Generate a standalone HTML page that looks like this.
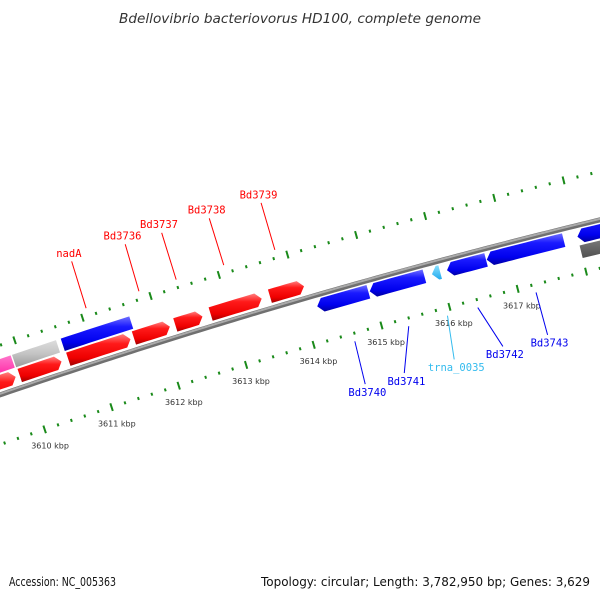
<!DOCTYPE html>
<html><head><meta charset="utf-8"><style>
html,body{margin:0;padding:0;background:#fff;}
svg{display:block;}
</style></head><body>
<svg id="map" width="600" height="600" viewBox="0 0 600 600" xmlns="http://www.w3.org/2000/svg">
<defs>
<linearGradient id="gRed" x1="0" y1="0" x2="0" y2="1"><stop offset="0" stop-color="#ff8080"/><stop offset="0.3" stop-color="#ff1a1a"/><stop offset="0.75" stop-color="#ee0000"/><stop offset="1" stop-color="#a00000"/></linearGradient>
<linearGradient id="gBlue" x1="0" y1="0" x2="0" y2="1"><stop offset="0" stop-color="#7070ff"/><stop offset="0.3" stop-color="#1a1aff"/><stop offset="0.75" stop-color="#0000ee"/><stop offset="1" stop-color="#0000a0"/></linearGradient>
<linearGradient id="gGray" x1="0" y1="0" x2="0" y2="1"><stop offset="0" stop-color="#dddddd"/><stop offset="0.5" stop-color="#c4c4c4"/><stop offset="1" stop-color="#999"/></linearGradient>
<linearGradient id="gPink" x1="0" y1="0" x2="0" y2="1"><stop offset="0" stop-color="#ff77cc"/><stop offset="0.5" stop-color="#ff33aa"/><stop offset="1" stop-color="#bb1177"/></linearGradient>
<linearGradient id="gDark" x1="0" y1="0" x2="0" y2="1"><stop offset="0" stop-color="#999"/><stop offset="0.5" stop-color="#707070"/><stop offset="1" stop-color="#505050"/></linearGradient>
<linearGradient id="gCyan" x1="0" y1="0" x2="0" y2="1"><stop offset="0" stop-color="#88e0ff"/><stop offset="1" stop-color="#22aaee"/></linearGradient>
</defs>
<text x="300" y="23" text-anchor="middle" font-family="DejaVu Sans, sans-serif" font-style="italic" font-size="13" fill="#333" textLength="362" lengthAdjust="spacingAndGlyphs">Bdellovibrio bacteriovorus HD100, complete genome</text>
<g id="ticks"></g>
<g id="backbone"></g>
<g id="genes"></g>
<g id="labels"></g>
<text x="9" y="586" font-family="DejaVu Sans, sans-serif" font-size="12" fill="#111" textLength="107" lengthAdjust="spacingAndGlyphs">Accession: NC_005363</text>
<text x="590" y="586" text-anchor="end" font-family="DejaVu Sans, sans-serif" font-size="12" fill="#111" textLength="329" lengthAdjust="spacingAndGlyphs">Topology: circular; Length: 3,782,950 bp; Genes: 3,629</text>
</svg>
<script>
// ---- data ----
const geneStarts = [3608.9, 3609.91, 3610.63, 3611.60, 3612.21, 3612.73, 3613.60, 3608.9, 3609.90, 3610.62, 3614.20, 3614.97, 3615.88, 3616.10, 3616.68, 3618.00, 3618.00];
const geneEnds   = [3609.85, 3610.53, 3611.55, 3612.13, 3612.61, 3613.48, 3614.10, 3609.88, 3610.55, 3611.63, 3614.95, 3615.77, 3616.00, 3616.67, 3617.80, 3619.0, 3619.0];
const geneStrand = [1, 1, 1, 1, 1, 1, 1, 0, 0, 0, -1, -1, -1, -1, -1, -1, 0];
const geneTrack  = [1, 1, 1, 1, 1, 1, 1, 2, 2, 2, -1, -1, -1, -1, -1, -1, -2];
const geneColor  = ['gRed','gRed','gRed','gRed','gRed','gRed','gRed','gPink','gGray','gBlue','gBlue','gBlue','gCyan','gBlue','gBlue','gBlue','gDark'];
const geneNames  = ['', '', 'nadA', 'Bd3736', 'Bd3737', 'Bd3738', 'Bd3739', '', '', '', 'Bd3740', 'Bd3741', 'trna_0035', 'Bd3742', 'Bd3743', '', ''];
const labelTextPos = [0, 0, 3611.10, 3611.88, 3612.41, 3613.10, 3613.85, 0, 0, 0, 3614.55, 3615.13, 3615.87, 3616.59, 3617.25, 0, 0];
const tickLabels = [3610, 3611, 3612, 3613, 3614, 3615, 3616, 3617];

// ---- axis (circular map) ----
const CX = 2198, CY = 6814, R = 6785;
const S0 = 3615, A0 = 15.64 * Math.PI / 180, RAD_PER_KBP = 71 / 6785;
function ang(s){ return A0 - (s - S0) * RAD_PER_KBP; }
function pt(s, r){ const a = ang(s); return [CX - (R + r) * Math.sin(a), CY - (R + r) * Math.cos(a)]; }
const trackR = {'1':[5,19], '2':[21,34], '-1':[-18,-4], '-2':[-33,-20]};
const NS = 'http://www.w3.org/2000/svg';
function mk(tag, attrs, parent){ const e = document.createElementNS(NS, tag); for (const k in attrs) e.setAttribute(k, attrs[k]); parent.appendChild(e); return e; }
function f(p){ return p[0].toFixed(2) + ',' + p[1].toFixed(2); }

// ticks
const tg = document.getElementById('ticks');
for (let i = 3608 * 5; i <= 3620 * 5; i++) {
  const s = i / 5; const major = (i % 5 === 0);
  [47, -47].forEach(rc => {
    const h = major ? 4 : 1.5;
    const a = pt(s, rc - h), b = pt(s, rc + h);
    const ln = mk('line', {x1:a[0], y1:a[1], x2:b[0], y2:b[1], stroke:'#1a8a1a', 'stroke-width': 2}, tg);
    
    
  });
}
tickLabels.forEach(k => {
  const p = pt(k, -64);
  const t = mk('text', {x:p[0], y:p[1] + 3, 'text-anchor':'middle', 'font-family':'DejaVu Sans, sans-serif', 'font-size':'8', fill:'#333'}, tg);
  t.textContent = k + ' kbp';
  
  
});

// backbone
const bb = document.getElementById('backbone');
function arcPath(s1, s2, r){ let d = ''; for (let s = s1; s <= s2 + 1e-9; s += 0.1) { d += (d ? 'L' : 'M') + f(pt(s, r)); } return d; }
const bb1 = mk('path', {d: arcPath(3607, 3620, 0), fill:'none', stroke:'#707070', 'stroke-width':5}, bb);


const bb2 = mk('path', {d: arcPath(3607, 3620, 1), fill:'none', stroke:'#aaaaaa', 'stroke-width':2}, bb);



// genes
const gg = document.getElementById('genes');
const AH = 0.08;
geneStarts.forEach((s1, i) => {
  const s2 = geneEnds[i], st = geneStrand[i];
  const rr = trackR[String(geneTrack[i])]; const rIn = rr[0], rOut = rr[1], rMid = (rIn + rOut) / 2;
  let pts = [];
  const steps = Math.max(2, Math.ceil((s2 - s1) / 0.1));
  if (st === 1) {
    const e = Math.max(s1, s2 - AH);
    for (let k = 0; k <= steps; k++) pts.push(pt(s1 + (e - s1) * k / steps, rOut));
    pts.push(pt(s2, rMid));
    for (let k = steps; k >= 0; k--) pts.push(pt(s1 + (e - s1) * k / steps, rIn));
  } else if (st === -1) {
    const b = Math.min(s2, s1 + AH);
    pts.push(pt(s1, rMid));
    for (let k = 0; k <= steps; k++) pts.push(pt(b + (s2 - b) * k / steps, rOut));
    for (let k = steps; k >= 0; k--) pts.push(pt(b + (s2 - b) * k / steps, rIn));
  } else {
    for (let k = 0; k <= steps; k++) pts.push(pt(s1 + (s2 - s1) * k / steps, rOut));
    for (let k = steps; k >= 0; k--) pts.push(pt(s1 + (s2 - s1) * k / steps, rIn));
  }
  const pg = mk('polygon', {points: pts.map(f).join(' '), fill: 'url(#' + geneColor[i] + ')'}, gg);
  
  
});

// labels
const lg = document.getElementById('labels');
geneNames.forEach((nm, i) => {
  if (!nm) return;
  const mid = (geneStarts[i] + geneEnds[i]) / 2;
  const up = geneTrack[i] > 0;
  const col = geneColor[i] === 'gCyan' ? '#33bbee' : (up ? '#ff0000' : '#0000ee');
  const a = pt(mid, up ? 55 : -55), b = pt(labelTextPos[i], up ? 104 : -99);
  const ln = mk('line', {x1:a[0], y1:a[1], x2:b[0], y2:b[1], stroke: col, 'stroke-width': 1}, lg);
  
  
  const tp = pt(labelTextPos[i], up ? 113 : -107);
  const t = mk('text', {x: tp[0], y: tp[1] + 4, 'text-anchor':'middle', 'font-family':'DejaVu Sans Mono, monospace', 'font-size':'10.5', fill: col}, lg);
  t.textContent = nm;
  
  
});
</script>
</body></html>
